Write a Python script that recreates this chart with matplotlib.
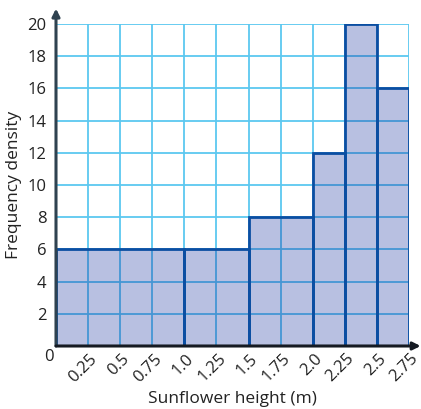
import matplotlib
matplotlib.use("Agg")
import matplotlib.pyplot as plt
import matplotlib.transforms as mtransforms
from matplotlib.path import Path
from matplotlib.patches import PathPatch
import numpy as np

plt.rcParams["font.family"] = ["Open Sans", "DejaVu Sans"]

# ── Data ─────────────────────────────────────────────────────────────────────
bin_edges = [0.0, 1.0, 1.5, 2.0, 2.25, 2.5, 2.75]
freq_density = [6, 6, 8, 12, 20, 16]
x_ticks = [0.25, 0.5, 0.75, 1.0, 1.25, 1.5, 1.75, 2.0, 2.25, 2.5, 2.75]
x_labels = ["0.25", "0.5", "0.75", "1.0", "1.25", "1.5", "1.75", "2.0", "2.25", "2.5", "2.75"]
y_ticks = [2, 4, 6, 8, 10, 12, 14, 16, 18, 20]

C_GRID = "#5cc8f0"
C_GRID_IN = "#4496d4"
C_FILL = "#b8c0e1"
C_EDGE = "#0b4ea2"
C_AXIS = "#2f4250"

fig = plt.figure(figsize=(4.21, 4.09), dpi=100)
ax = fig.add_axes([56 / 421, 63 / 409, 353 / 421, 322 / 409])
ax.set_xlim(0, 2.75)
ax.set_ylim(0, 20)

# grid (under bars)
for xv in x_ticks:
    ax.axvline(xv, color=C_GRID, lw=1.3, zorder=0)
for yv in y_ticks:
    ax.axhline(yv, color=C_GRID, lw=1.3, zorder=0)

widths = np.diff(bin_edges)
bars = ax.bar(bin_edges[:-1], freq_density, width=widths, align="edge",
              color=C_FILL, edgecolor="none", zorder=1)

# darker grid showing through the bars
verts, codes = [], []
for b in bars:
    x0, y0, w, h = b.get_x(), b.get_y(), b.get_width(), b.get_height()
    verts += [(x0, y0), (x0 + w, y0), (x0 + w, y0 + h), (x0, y0 + h), (x0, y0)]
    codes += [Path.MOVETO, Path.LINETO, Path.LINETO, Path.LINETO, Path.CLOSEPOLY]
clip = PathPatch(Path(verts, codes), transform=ax.transData, facecolor="none", edgecolor="none")
ax.add_patch(clip)
for xv in x_ticks:
    ln = ax.axvline(xv, color=C_GRID_IN, lw=1.3, zorder=2)
    ln.set_clip_path(clip)
for yv in y_ticks:
    ln = ax.axhline(yv, color=C_GRID_IN, lw=1.3, zorder=2)
    ln.set_clip_path(clip)

# bar outlines
ax.bar(bin_edges[:-1], freq_density, width=widths, align="edge",
       color="none", edgecolor=C_EDGE, lw=2, zorder=3)

for s in ax.spines.values():
    s.set_visible(False)

# axes with arrows
ax.annotate("", xy=(0, 1.048), xytext=(0, 0), xycoords="axes fraction",
            arrowprops=dict(arrowstyle="-|>", color=C_AXIS, lw=2.2,
                            mutation_scale=11, shrinkA=0, shrinkB=0), zorder=5,
            annotation_clip=False)
ax.annotate("", xy=(1.033, 0), xytext=(0, 0), xycoords="axes fraction",
            arrowprops=dict(arrowstyle="-|>", color="#151a22", lw=2.2,
                            mutation_scale=11, shrinkA=0, shrinkB=0), zorder=5,
            annotation_clip=False)

ax.set_yticks(y_ticks)
ax.set_yticklabels([str(v) for v in y_ticks], fontsize=12, color="#222222")
ax.set_xticks(x_ticks)
ax.set_xticklabels(x_labels, fontsize=12, color="#222222",
                   rotation=45, ha="right", va="center", rotation_mode="anchor")
ax.tick_params(length=0, axis="y", pad=7)
ax.tick_params(length=0, axis="x", pad=0)
offset = mtransforms.ScaledTranslation(5 / 72, -7.5 / 72, fig.dpi_scale_trans)
for lbl in ax.get_xticklabels():
    lbl.set_transform(lbl.get_transform() + offset)

ax.annotate("0", xy=(0, 0), xycoords="data", xytext=(-5, -8), textcoords="offset points",
            ha="center", va="center", fontsize=12, color="#222222", annotation_clip=False)

ax.set_ylabel("Frequency density", fontsize=12.5, color="#222222", labelpad=4)
ax.set_xlabel("Sunflower height (m)", fontsize=12.5, color="#222222", labelpad=4)

fig.savefig("out.png", dpi=100, facecolor="white")
